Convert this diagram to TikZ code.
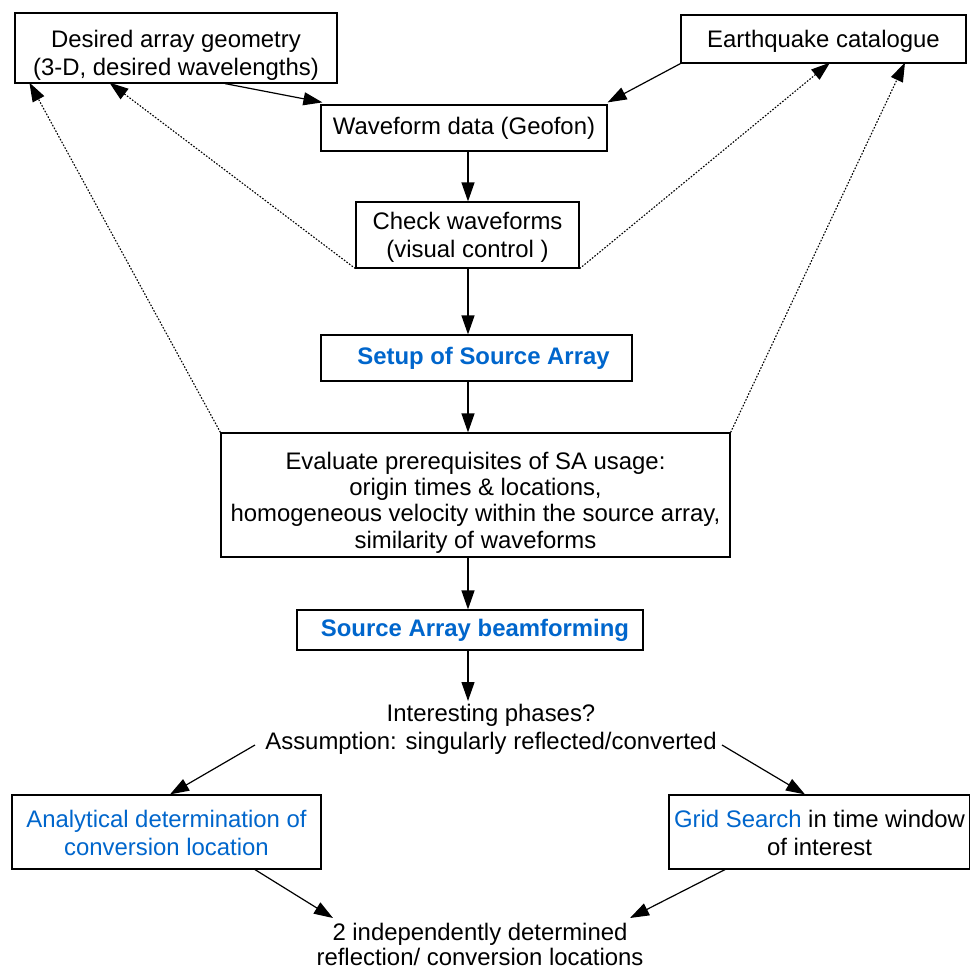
\documentclass[tikz,border=0pt]{standalone}
\usepackage{fontspec}
\setmainfont{Liberation Sans}
\usetikzlibrary{arrows.meta,calc}
\definecolor{linkblue}{HTML}{0066CC}
% strut of a given height, used to push a text block downwards inside its box
\newcommand{\lowerby}[1]{\rule{0pt}{#1}}
\begin{document}
\begin{tikzpicture}[x=1pt,y=-1pt,
  font=\fontsize{23.9}{28}\selectfont,
  box/.style={draw, line width=1.2pt, align=center, inner sep=0pt},
  plain/.style={align=center, inner sep=0pt},
  arr/.style={line width=1.2pt, -{Triangle[length=19pt,width=13pt]}},
  darr/.style={line width=1.1pt, dash pattern=on 1.6pt off 1.6pt, -{Triangle[length=19pt,width=13pt]}}]
\useasboundingbox (0,0) rectangle (970,970);
\fill[white] (0,0) rectangle (970,970);

% boxes of the flow chart
\node[box, minimum width=322, minimum height=70] (geom) at (176,48)
  {\lowerby{31pt}Desired array geometry\\(3-D, desired wavelengths)};
\node[box, minimum width=285, minimum height=48] (cat) at (823.5,39)
  {\lowerby{22pt}Earthquake catalogue};
\node[box, minimum width=286, minimum height=46] (wave) at (464,128)
  {Waveform data (Geofon)};
\node[box, minimum width=223, minimum height=66] (check) at (467.5,235)
  {\lowerby{21.5pt}Check waveforms\\ (visual control )};
\node[box, minimum width=311, minimum height=46] (setup) at (476.5,358)
  {\hspace*{14pt}\textcolor{linkblue}{\bfseries Setup of Source Array}};
\node[box, minimum width=509, minimum height=124, font=\fontsize{23.9}{26.4}\selectfont] (eval) at (475.5,495)
  {\lowerby{32.5pt}Evaluate prerequisites of SA usage:\\origin times \& locations,\\homogeneous velocity within the source array,\\similarity of waveforms};
\node[box, minimum width=346, minimum height=40] (beam) at (470,630)
  {\hspace*{10pt}\textcolor{linkblue}{\bfseries Source Array beamforming}};
\node[plain] (phases) at (491,727)
  {\lowerby{21.5pt}Interesting phases?\\Assumption: singularly reflected/converted};
\node[box, minimum width=309, minimum height=74] (analyt) at (166.5,832)
  {\lowerby{20pt}\textcolor{linkblue}{Analytical determination of}\\\textcolor{linkblue}{conversion location}};
\node[box, minimum width=301, minimum height=74] (grid) at (819.5,832)
  {\lowerby{20pt}\textcolor{linkblue}{Grid Search} in time window\\of interest};
\node[plain, font=\fontsize{23.9}{25.5}\selectfont] (result) at (480,943)
  {\lowerby{20pt}2 independently determined\\reflection/ conversion locations};

% main flow down the middle
\coordinate (spine) at (468,0);
\draw[arr] ([xshift=49pt]geom.south) -- ([xshift=2pt,yshift=2pt]wave.north west);
\draw[arr] (cat.south west) -- ([yshift=2pt]wave.north east);
\draw[arr] (wave.south -| spine) -- (check.north -| spine);
\draw[arr] (check.south -| spine) -- (setup.north -| spine);
\draw[arr] (setup.south -| spine) -- (eval.north -| spine);
\draw[arr] (eval.south -| spine) -- (beam.north -| spine);
\draw[arr] (beam.south -| spine) -- (468,701);
\draw[arr] (255,745) -- ([xshift=3.5pt]analyt.north);
\draw[arr] (722,745) -- ([xshift=-14.5pt]grid.north);
\draw[arr] ([xshift=88.5pt]analyt.south) -- (333,918);
\draw[arr] ([xshift=-94.5pt]grid.south) -- (630,918);

% dotted feedback links
\draw[darr] (check.south west) -- ([xshift=95pt,yshift=1pt]geom.south west);
\draw[darr] (eval.north west) -- ([xshift=15pt,yshift=1pt]geom.south west);
\draw[darr] (check.south east) -- ([xshift=6.5pt,yshift=1pt]cat.south);
\draw[darr] (eval.north east) -- ([xshift=81.5pt,yshift=1pt]cat.south);
\end{tikzpicture}
\end{document}
